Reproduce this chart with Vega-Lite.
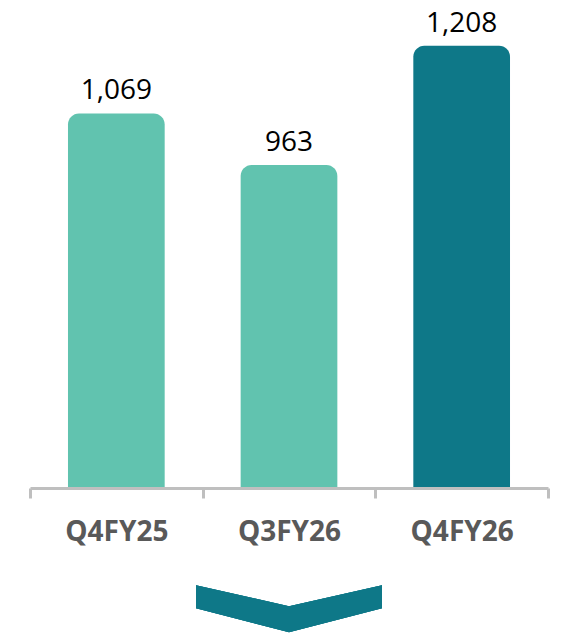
{
  "$schema": "https://vega.github.io/schema/vega-lite/v6.json",
  "autosize": {"type": "none"},
  "width": 518,
  "height": 487,
  "padding": {"left": 30, "top": 1, "right": 17, "bottom": 146},
  "config": {"view": {"stroke": null}},
  "data": {"values": [
    {"quarter": "Q4FY25", "value": 1069},
    {"quarter": "Q3FY26", "value": 963},
    {"quarter": "Q4FY26", "value": 1208}
  ]},
  "encoding": {
    "x": {
      "field": "quarter", "type": "nominal", "sort": null, "title": null,
      "scale": {"paddingInner": 0, "paddingOuter": 0},
      "axis": {
        "domainColor": "#BFBFBF", "domainWidth": 3,
        "tickColor": "#BFBFBF", "tickWidth": 3, "tickSize": 10, "tickBand": "extent",
        "labelFont": "Open Sans", "labelFontSize": 28, "labelFontWeight": "bold",
        "labelColor": "#595959", "labelPadding": 20, "labelAngle": 0,
        "zindex": 1
      }
    }
  },
  "layer": [
    {
      "mark": {"type": "bar", "width": {"band": 0.56}, "cornerRadiusTopLeft": 11, "cornerRadiusTopRight": 11},
      "encoding": {
        "y": {"field": "value", "type": "quantitative", "scale": {"domain": [300, 1300], "zero": false}, "axis": null},
        "y2": {"datum": 300},
        "color": {"condition": {"test": "datum.quarter === 'Q4FY26'", "value": "#0E7888"}, "value": "#61C3AF"}
      }
    },
    {
      "mark": {"type": "text", "font": "Open Sans", "fontSize": 28, "color": "#000000", "baseline": "alphabetic", "dy": -14},
      "encoding": {
        "y": {"field": "value", "type": "quantitative"},
        "text": {"field": "value", "type": "quantitative", "format": ","}
      }
    },
    {
      "mark": {"type": "point", "filled": true, "clip": false, "opacity": 1, "color": "#0E7888", "strokeWidth": 0,
        "shape": "M-1,-0.253 L0,-0.027 L1,-0.253 L1,-0.005 L0,0.253 L-1,-0.005 Z", "size": 34596},
      "encoding": {
        "x": {"datum": "Q3FY26"},
        "y": {"datum": 52}
      }
    }
  ]
}
